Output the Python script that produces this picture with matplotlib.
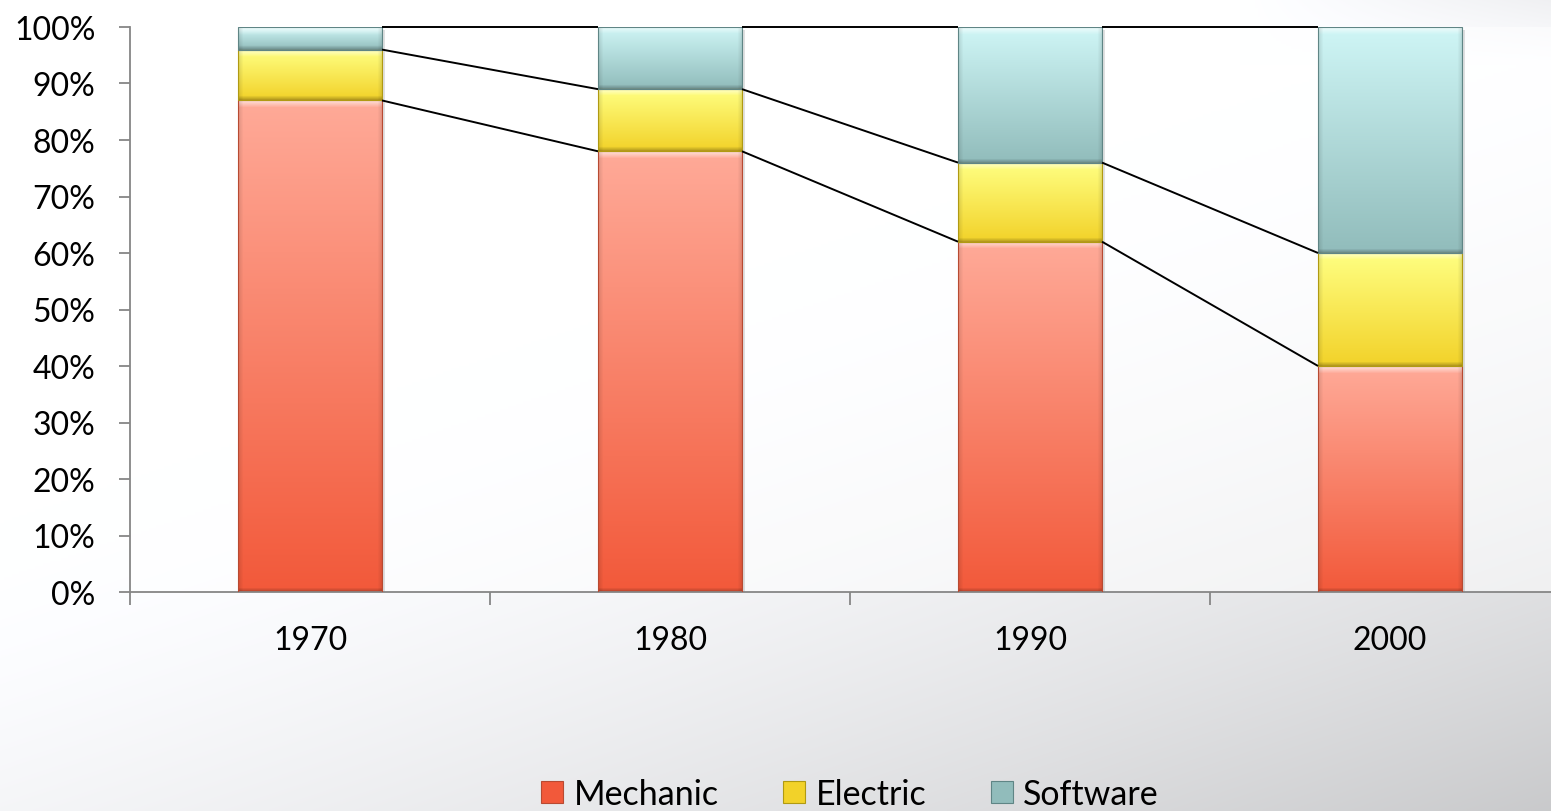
import numpy as np
import matplotlib.pyplot as plt
from matplotlib.colors import to_rgb
from matplotlib.patches import Patch
import matplotlib.transforms as mtransforms

plt.rcParams['font.family'] = ['Lato', 'DejaVu Sans']

years = ['1970', '1980', '1990', '2000']
mechanic = [87, 78, 62, 40]
electric = [9, 11, 14, 20]
software = [4, 11, 24, 40]
names = ['Mechanic', 'Electric', 'Software']

# top colour, bottom colour, edge colour of each series
grads = [('#FFAA98', '#F2593A', '#B84A32'),
         ('#FFFF82', '#F2D229', '#B09A12'),
         ('#CFF6F6', '#91BCBB', '#5F8585')]

fig = plt.figure(figsize=(15.51, 8.12), dpi=100)

# soft grey background, white in the upper left corner
bg = fig.add_axes([0, 0, 1, 1], zorder=-10)
yy, xx = np.mgrid[0:1:300j, 0:1:600j]
t = np.clip((0.55 * xx + 0.85 * yy - 0.55) / 0.85, 0, 1) ** 1.6
g = 1 - 0.21 * t
# faint swoosh in the top right corner
sw = np.clip((xx - 0.8) / 0.2, 0, 1) * np.clip(1 - yy / 0.08, 0, 1)
g = g - 0.06 * sw
img = np.dstack([g, g * 1.003, g * 1.012]).clip(0, 1)
bg.imshow(img, extent=(0, 1, 0, 1), aspect='auto', interpolation='bilinear')
bg.set_axis_off()

ax = fig.add_axes([130 / 1551, 219 / 812, 1421 / 1551, 565 / 812])
ax.set_facecolor((1, 1, 1, 0.55))
ax.set_xlim(-0.5, 3.447)
ax.set_ylim(0, 100)

x = np.arange(len(years))
w = 0.4
mech = np.array(mechanic)
elec = np.array(electric)
soft = np.array(software)
bottoms = [np.zeros(4), mech, mech + elec]
vals = [mech, elec, soft]

shadow = mtransforms.offset_copy(ax.transData, fig=fig, x=3, y=-3, units='dots')
ax.bar(x, mech + elec + soft, w, color='#000000', alpha=0.12, transform=shadow, zorder=1)


def shade(patch, top, bot, edge):
    x0, y0 = patch.get_x(), patch.get_y()
    x1, y1 = x0 + patch.get_width(), y0 + patch.get_height()
    p0 = ax.transData.transform((x0, y0))
    p1 = ax.transData.transform((x1, y1))
    nx = max(int(abs(p1[0] - p0[0])), 2)
    ny = max(int(abs(p1[1] - p0[1])), 2)
    tv = np.linspace(0, 1, ny)[:, None, None]
    c = np.array(to_rgb(top)) * (1 - tv) + np.array(to_rgb(bot)) * tv
    c = np.repeat(c, nx, axis=1)
    rows = np.arange(ny)[:, None]
    cols = np.arange(nx)[None, :]
    # bevel: light top strip, dark bottom strip, darker sides
    hi = np.clip(1 - rows / 7.0, 0, 1) * 0.65
    c = c + (1 - c) * hi[..., None] * np.ones((1, nx, 1))
    lo = np.clip(1 - (ny - 1 - rows) / 4.0, 0, 1) * 0.25
    side = np.clip(1 - np.minimum(cols, nx - 1 - cols) / 5.0, 0, 1) * 0.12
    c = c * (1 - lo[..., None]) * (1 - side[..., None])
    im = ax.imshow(c.clip(0, 1), extent=(x0, x1, y0, y1), aspect='auto',
                   interpolation='bilinear', zorder=2)
    im.set_clip_path(patch)


for v, b, (top, bot, edge) in zip(vals, bottoms, grads):
    bars = ax.bar(x, v, w, bottom=b, facecolor='none', edgecolor=edge,
                  linewidth=0.8, zorder=3)
    for p in bars:
        shade(p, top, bot, edge)

# series lines between bars
for level in [mech, mech + elec, mech + elec + soft]:
    for i in range(len(x) - 1):
        ax.plot([x[i] + w / 2, x[i + 1] - w / 2], [level[i], level[i + 1]],
                color='black', linewidth=1.4, zorder=4, clip_on=False,
                solid_capstyle='butt')

ax.set_ylim(0, 100)
ax.set_xlim(-0.5, 3.447)

for s in ['top', 'right']:
    ax.spines[s].set_visible(False)
for s in ['left', 'bottom']:
    ax.spines[s].set_color('#868686')
    ax.spines[s].set_linewidth(1.3)

ax.set_yticks(np.arange(0, 101, 10))
ax.set_yticklabels([f'{v}%' for v in range(0, 101, 10)])
ax.tick_params(axis='y', length=8, width=1.3, color='#868686', pad=17,
               labelsize=23)
ax.set_xticks([-0.5, 0.5, 1.5, 2.5])
ax.set_xticklabels([])
ax.tick_params(axis='x', which='major', length=9, width=1.3, color='#868686')
ax.set_xticks(x, minor=True)
ax.set_xticklabels(years, minor=True)
ax.tick_params(axis='x', which='minor', length=0, pad=24, labelsize=23)

handles = [Patch(facecolor=to_rgb(g[1]), edgecolor=g[2], linewidth=0.8) for g in grads]
fig.legend(handles, names, loc='center', bbox_to_anchor=(850 / 1551, 17 / 812),
           ncol=3, frameon=False, fontsize=24.5, handlelength=0.65,
           handleheight=0.65, handletextpad=0.3, columnspacing=1.9)

fig.savefig('out.png', dpi=100)
